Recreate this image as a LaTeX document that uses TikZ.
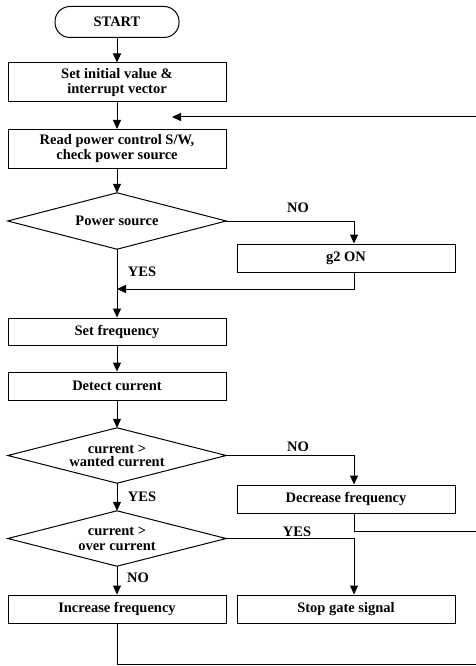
\documentclass[tikz,border=0pt]{standalone}
\usepackage{fontspec}
\setmainfont{Liberation Serif}
\usetikzlibrary{arrows.meta}
\tikzset{
  base/.style={draw, line width=1pt, font=\bfseries\fontsize{14.5}{15}\selectfont, align=center, inner sep=0pt},
  procbox/.style={base, rectangle, minimum width=218pt, minimum height=28pt},
  tallbox/.style={base, rectangle, minimum width=218pt, minimum height=39pt},
  decision/.style={font=\bfseries\fontsize{14.5}{15}\selectfont, align=center, inner sep=0pt, rectangle, minimum width=218pt, minimum height=56pt},
  decedge/.style={line width=1pt, line join=miter},
  terminal/.style={base, rectangle, rounded corners=15pt, minimum width=124pt, minimum height=31pt},
  lbl/.style={font=\bfseries\fontsize{14.5}{15}\selectfont, inner sep=0pt},
  flow/.style={line width=1pt, -{Triangle[length=9pt,width=8pt]}},
  line/.style={line width=1pt}
}
\begin{document}
\begin{tikzpicture}[x=1pt,y=-1pt]
\useasboundingbox (0,0) rectangle (476,666);
\node[terminal] (start) at (117,22) {START};
\node[tallbox] (init) at (117,82.5) {Set initial value \&\\interrupt vector};
\node[tallbox] (read) at (117,149) {Read power control S/W,\\check power source};
\node[decision] (d1) at (117,221) {Power source};
\node[procbox] (g2) at (346,258) {g2 ON};
\node[procbox, minimum height=27pt] (setf) at (117,331.5) {Set frequency};
\node[procbox] (detc) at (117,386) {Detect current};
\node[decision, minimum height=55pt, font=\bfseries\fontsize{14.5}{13}\selectfont] (d2) at (117,455.5) {current >\\wanted current};
\node[procbox] (decf) at (346,499) {Decrease frequency};
\node[decision, minimum height=55pt] (d3) at (117,538.5) {current >\\over current};
\node[procbox] (stop) at (346,609) {Stop gate signal};
\node[procbox] (incf) at (117,609) {Increase frequency};

\draw[decedge] (d1.west) -- (d1.north) -- (d1.east) -- (d1.south) -- cycle;
\draw[decedge] (d2.west) -- (d2.north) -- (d2.east) -- (d2.south) -- cycle;
\draw[decedge] (d3.west) -- (d3.north) -- (d3.east) -- (d3.south) -- cycle;

\coordinate (fbR) at (476,117);
\coordinate (fbA) at (172,117);
\coordinate (j1) at (117,289);
\coordinate (out1) at (476,531);
\coordinate (out2) at (476,664);

\draw[flow] (start) -- (init);
\draw[flow] (init) -- (read);
\draw[flow] (fbR) -- (fbA);
\draw[flow] (read) -- (d1.north);
\draw[flow] (d1.east) -| ([xshift=8pt]g2.north);
\draw[flow] ([xshift=8pt]g2.south) |- (j1);
\draw[flow] (d1.south) -- (setf.north);
\draw[flow] (setf) -- (detc);
\draw[flow] (detc) -- (d2.north);
\draw[flow] (d2.east) -| ([xshift=8pt]decf.north);
\draw[line] ([xshift=8pt]decf.south) |- (out1);
\draw[flow] (d2.south) -- (d3.north);
\draw[flow] (d3.east) -| ([xshift=8pt]stop.north);
\draw[flow] (d3.south) -- (incf.north);
\draw[line] (incf.south) |- (out2);

\node[lbl] (no1) at (298,208) {NO};
\node[lbl] (yes1) at (142,272) {YES};
\node[lbl] (no2) at (298,447) {NO};
\node[lbl] (yes2) at (142,497) {YES};
\node[lbl] (yes3) at (297,532) {YES};
\node[lbl] (no3) at (138,578) {NO};
\end{tikzpicture}
\end{document}
